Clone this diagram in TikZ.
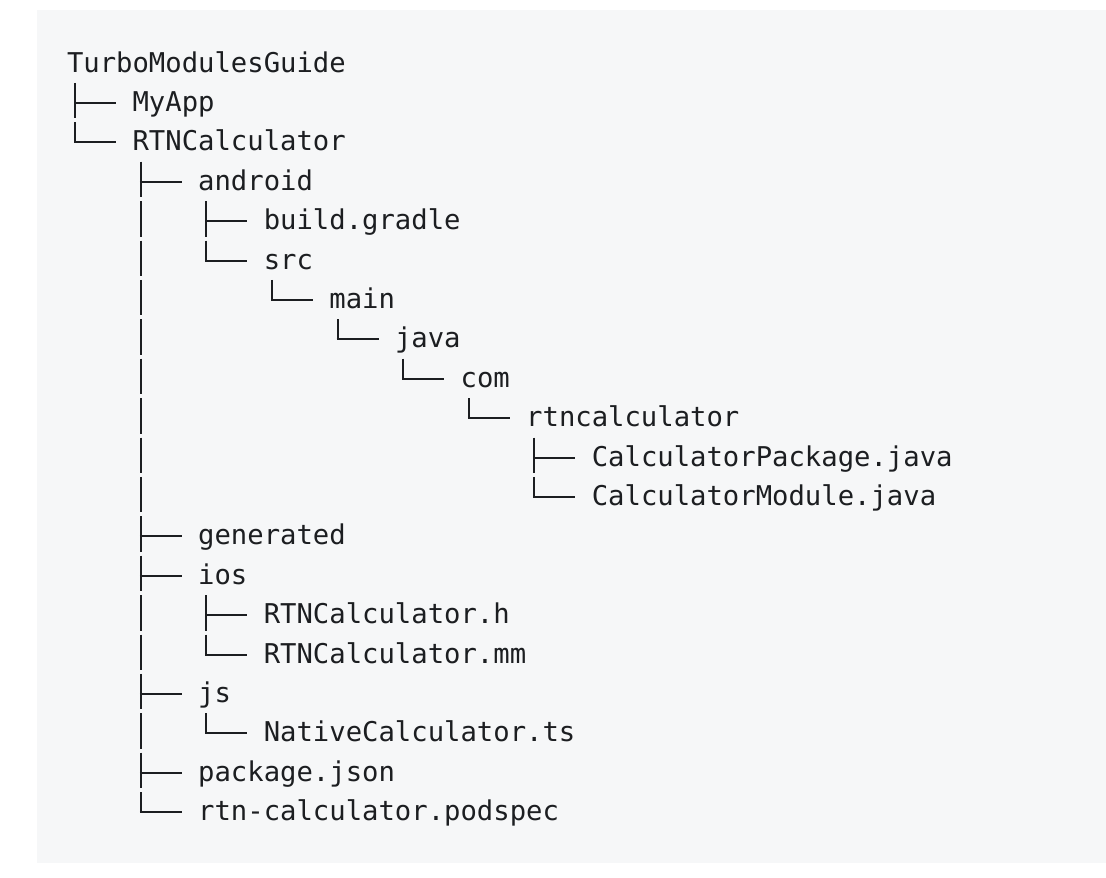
\documentclass[tikz,border=0pt]{standalone}
\usepackage{fontspec}
\setmonofont{DejaVu Sans Mono}
\usetikzlibrary{calc}
\definecolor{codebg}{HTML}{F6F7F8}
\definecolor{codefg}{HTML}{1C1E21}
\begin{document}
\begin{tikzpicture}[x=1pt,y=-1pt,
  item/.style={anchor=base west,inner sep=0pt,outer sep=0pt,text=codefg,
    font=\ttfamily\fontsize{27.24}{39.4}\selectfont},
  hline/.style={draw=codefg,line width=1.9pt},
  vline/.style={draw=codefg,line width=1.9pt,dash pattern=on 35.5pt off 3.9pt}]
\useasboundingbox (0,0) rectangle (1106,878);
\fill[codebg] (37,10) rectangle (1106,863);
\def\W{16.4}
\def\R{39.4}
\newcommand\entry[4]{\node[item] (#1) at ({67+#2*\W},{72+#3*\R}) {#4};}
\entry{root}{0}{0}{TurboModulesGuide}
\entry{myapp}{4}{1}{MyApp}
\entry{rtn}{4}{2}{RTNCalculator}
\entry{android}{8}{3}{android}
\entry{gradle}{12}{4}{build.gradle}
\entry{src}{12}{5}{src}
\entry{main}{16}{6}{main}
\entry{java}{20}{7}{java}
\entry{com}{24}{8}{com}
\entry{rtncalc}{28}{9}{rtncalculator}
\entry{calcpkg}{32}{10}{CalculatorPackage.java}
\entry{calcmod}{32}{11}{CalculatorModule.java}
\entry{generated}{8}{12}{generated}
\entry{ios}{8}{13}{ios}
\entry{rtnh}{12}{14}{RTNCalculator.h}
\entry{rtnmm}{12}{15}{RTNCalculator.mm}
\entry{js}{8}{16}{js}
\entry{nativecalc}{12}{17}{NativeCalculator.ts}
\entry{pkgjson}{8}{18}{package.json}
\entry{podspec}{8}{19}{rtn-calculator.podspec}
% vertical trunks: from first child row top to last child branch
\foreach \a/\b in {myapp/rtn, android/podspec, gradle/src, main/main, java/java,
  com/com, rtncalc/rtncalc, calcpkg/calcmod, rtnh/rtnmm, nativecalc/nativecalc}
  \draw[vline] ($(\a.base west)+(-57.4,-28.5)$) -- ($(\b.base west)+(-57.4,-8.4)$);
% horizontal branches
\foreach \c in {myapp, rtn, android, gradle, src, main, java, com, rtncalc,
  calcpkg, calcmod, generated, ios, rtnh, rtnmm, js, nativecalc, pkgjson, podspec}
  \draw[hline] ($(\c.base west)+(-58.35,-8.4)$) -- ($(\c.base west)+(-16.4,-8.4)$);
\end{tikzpicture}
\end{document}
